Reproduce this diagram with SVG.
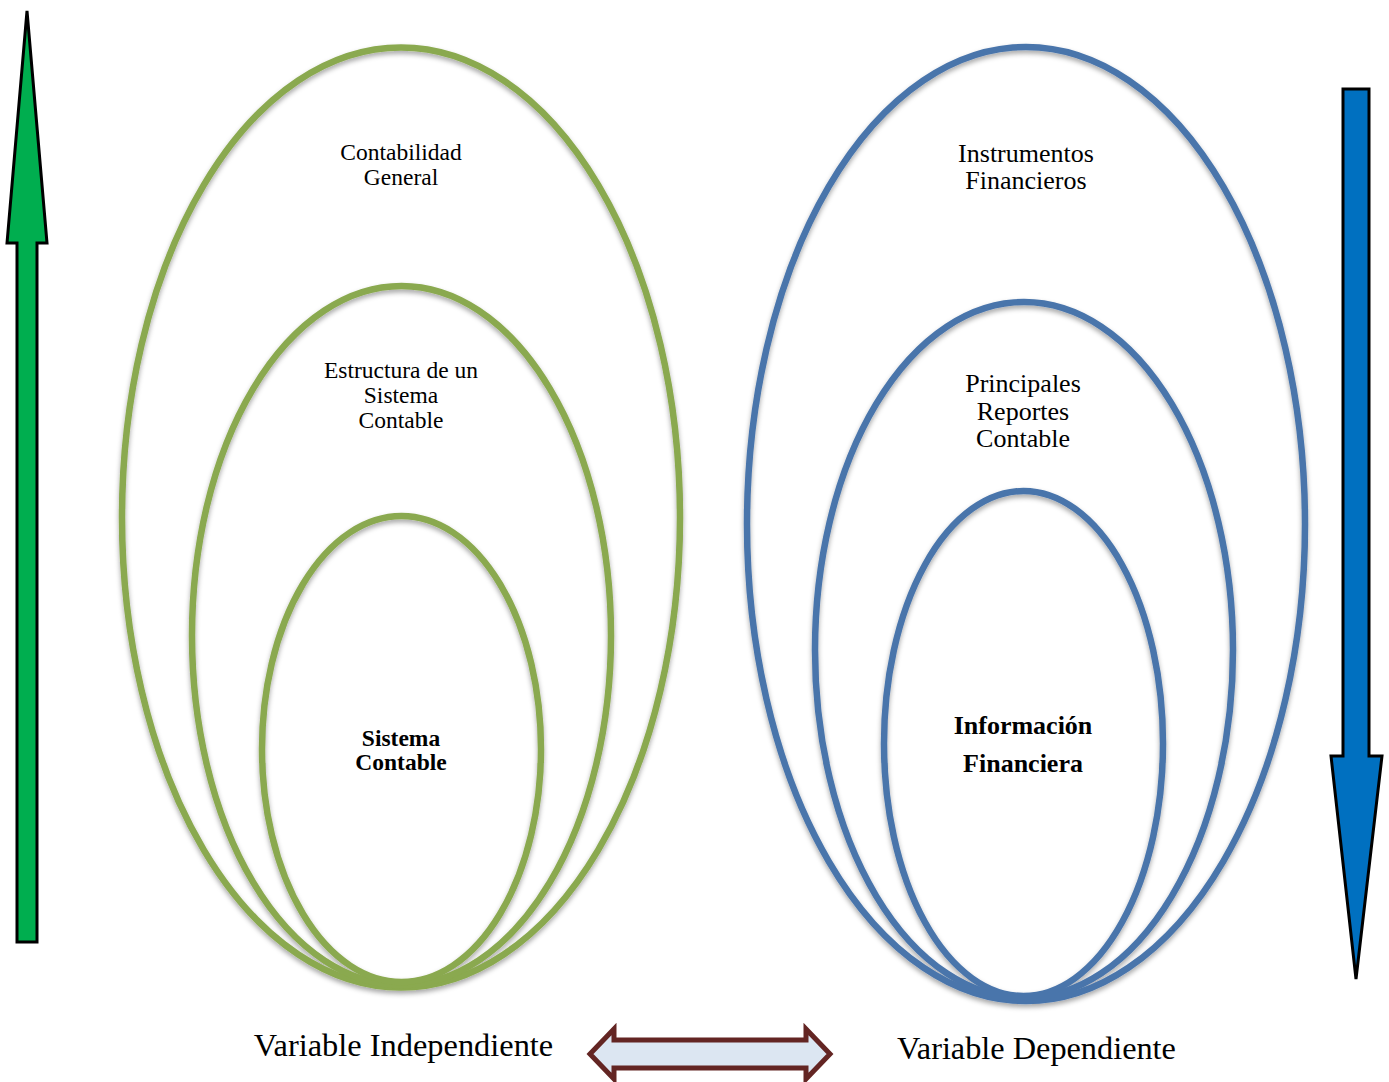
<svg xmlns="http://www.w3.org/2000/svg" width="1389" height="1082" viewBox="0 0 1389 1082">
<style>
.g{fill:none;stroke:#8aa94f;stroke-width:6.5}
.b{fill:none;stroke:#4a75ab;stroke-width:6.5}
.t{font-family:"Liberation Serif","Times New Roman",serif;fill:#000;text-anchor:middle}
.arr{stroke:#000;stroke-width:3;stroke-linejoin:miter}
</style>
<defs>
<filter id="sh" x="-10%" y="-10%" width="120%" height="120%">
<feDropShadow dx="0" dy="3" stdDeviation="2.5" flood-color="#000" flood-opacity="0.35"/>
</filter>
</defs>
<rect width="1389" height="1082" fill="#fff"/>
<g id="arrow-up">
<polygon class="arr" fill="#00ae4f" points="27,11 47,243 37,243 37,942 17,942 17,243 7,243"/>
</g>
<g id="arrow-down">
<polygon class="arr" fill="#0070c0" points="1343,89 1369,89 1369,756 1382,756 1356,979 1331,756 1343,756"/>
</g>
<g id="independiente" filter="url(#sh)">
<ellipse id="contabilidad-general" class="g" cx="401" cy="517.5" rx="279" ry="470"/>
<ellipse id="estructura" class="g" cx="401.5" cy="635.5" rx="209.5" ry="349.5"/>
<ellipse id="sistema-contable" class="g" cx="401.5" cy="749" rx="139.5" ry="233"/>
</g>
<g id="dependiente" filter="url(#sh)">
<ellipse id="instrumentos" class="b" cx="1026" cy="524" rx="279" ry="477"/>
<ellipse id="reportes" class="b" cx="1024" cy="650" rx="209" ry="348"/>
<ellipse id="informacion" class="b" cx="1023.5" cy="743.5" rx="139.5" ry="252.5"/>
</g>
<g id="labels">
<text class="t" font-size="23.5" x="401" y="160">Contabilidad</text>
<text class="t" font-size="23.5" x="401" y="185">General</text>
<text class="t" font-size="23.5" x="401" y="378">Estructura de un</text>
<text class="t" font-size="23.5" x="401" y="403">Sistema</text>
<text class="t" font-size="23.5" x="401" y="428">Contable</text>
<text class="t" font-size="23.5" font-weight="bold" x="401" y="746">Sistema</text>
<text class="t" font-size="23.5" font-weight="bold" x="401" y="770">Contable</text>
<text class="t" font-size="26" x="1026" y="162">Instrumentos</text>
<text class="t" font-size="26" x="1026" y="189">Financieros</text>
<text class="t" font-size="26" x="1023" y="392">Principales</text>
<text class="t" font-size="26" x="1023" y="420">Reportes</text>
<text class="t" font-size="26" x="1023" y="447">Contable</text>
<text class="t" font-size="26" font-weight="bold" x="1023" y="734">Información</text>
<text class="t" font-size="26" font-weight="bold" x="1023" y="772">Financiera</text>
<text class="t" font-size="32.4" x="403.5" y="1056">Variable Independiente</text>
<text class="t" font-size="32.3" x="1036.5" y="1059">Variable Dependiente</text>
</g>
<g id="connectors">
<polygon fill="#dce6f2" stroke="#632523" stroke-width="5" stroke-linejoin="miter" points="590,1054 614,1029 614,1040 806,1040 806,1029 830,1054 806,1079 806,1068 614,1068 614,1079"/>
</g>
</svg>
